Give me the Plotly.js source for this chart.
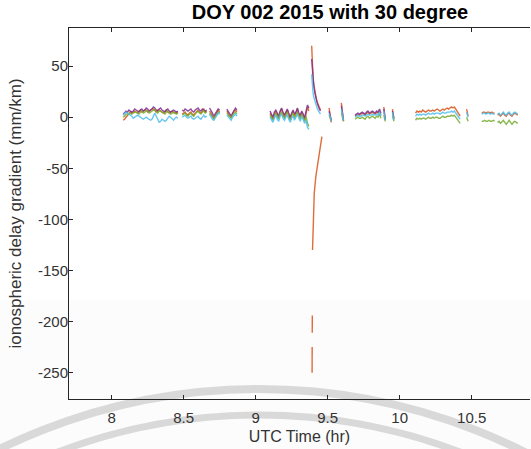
<!DOCTYPE html>
<html>
<head>
<meta charset="utf-8">
<script src="https://cdn.plot.ly/plotly-3.0.1.min.js"></script>
<style>
  html, body { margin: 0; padding: 0; background: #ffffff; }
  #chart { width: 531px; height: 449px; }
</style>
</head>
<body>
<div id="chart"></div>
<script>
// UTC hours of each epoch; null separates data arcs (no satellites tracked)
const utcHours = [
  8.08,8.09,8.10,8.11,8.12,8.13,8.14,8.15,8.16,8.17,8.18,8.19,8.20,8.21,8.22,8.23,8.24,8.25,8.26,8.27,
  8.28,8.29,8.30,8.31,8.32,8.33,8.34,8.35,8.36,8.37,8.38,8.39,8.40,8.41,8.42,8.43,8.44,8.45,8.46, null,
  8.49,8.50,8.51,8.52,8.53,8.54,8.55,8.56,8.57,8.58,8.59,8.60,8.61,8.62,8.63,8.64,8.65,8.66, null,
  8.68,8.69,8.70,8.71,8.72,8.73,8.74,8.75, null,
  8.80,8.81,8.82,8.83,8.84,8.85,8.86,8.87, null,
  9.10,9.11,9.12,9.13,9.14,9.15,9.16,9.17,9.18,9.19,9.20,9.21,9.22,9.23,9.24,9.25,9.26,9.27,9.28,9.29,
  9.30,9.31,9.32,9.33,9.34,9.35,9.36,9.37, null,
  9.51,9.515,9.52,9.525, null,
  9.595,9.60,9.605,9.61, null,
  9.69,9.70,9.71,9.72,9.73,9.74,9.75,9.76,9.77,9.78,9.79,9.80,9.81,9.82,9.83,9.84,9.85,9.86,9.87, null,
  9.89,9.895,9.90, null,
  9.95,9.955,9.96, null,
  10.11,10.12,10.13,10.14,10.15,10.16,10.17,10.18,10.19,10.20,10.21,10.22,10.23,10.24,10.25,10.26,
  10.27,10.28,10.29,10.30,10.31,10.32,10.33,10.34,10.35,10.36,10.37,10.38,10.39,10.40,10.41,10.42, null,
  10.465,10.47,10.475, null,
  10.57,10.58,10.59,10.60,10.61,10.62,10.63,10.64,10.65,10.66, null,
  10.68,10.69,10.70,10.71,10.72,10.73,10.74,10.75,10.76,10.77,10.78,10.79,10.80,10.81,10.82
];

// Gradient of each satellite pair (mm/km)
const pairOrange = [
  -3,-2,0,2,4,5,4,5,6,5,4,6,7,5,6,7,7,5,6,7,8,8,6,5,7,7,6,5,4,6,7,5,4,5,6,5,4,5,4, null,
  3,4,5,3,2,4,5,3,2,4,6,7,5,4,6,8,5,6, null,
  6,4,1,-1,2,5,7,5, null,
  6,3,1,0,3,6,7,5, null,
  4,1,-2,3,6,2,-1,5,8,3,0,4,7,2,-2,3,6,1,4,8,3,0,5,2,-3,4,10,6, null,
  9,3,-2,-5, null,
  14,6,-1,-4, null,
  1,2,3,2,3,4,3,2,4,5,3,4,5,4,3,5,4,6,2, null,
  10,3,-3, null,
  8,2,-2, null,
  4,6,5,6,5,7,6,5,6,7,6,6,7,6,7,8,7,6,7,8,7,8,9,8,9,10,9,10,8,6,3,1, null,
  8,4,1, null,
  4,5,5,4,5,5,4,5,4,4, null,
  2,3,1,3,4,2,1,3,4,2,1,3,4,3,2
];
const pairPurple = [
  3,5,6,5,7,6,5,6,8,7,6,5,7,8,6,7,9,8,6,7,8,10,9,7,6,8,9,7,6,5,7,8,6,5,6,7,6,5,6, null,
  7,6,8,7,6,7,8,6,5,7,8,9,7,6,8,7,6,7, null,
  9,7,4,1,3,6,8,7, null,
  8,6,3,1,4,7,9,7, null,
  6,3,0,5,7,4,1,6,9,5,2,5,8,4,0,4,7,3,5,9,4,2,6,3,-1,6,12,9, null,
  6,2,-1,-3, null,
  11,5,0,-3, null,
  2,3,4,3,4,5,4,3,5,6,4,5,6,5,4,6,5,8,4, null,
  8,2,-2, null,
  6,1,-1, null,
  null,null,null,null,null,null,null,null,null,null,null,null,null,null,null,null,
  null,null,null,null,null,null,null,null,null,null,null,null,null,null,null,null, null,
  null,null,null, null,
  null,null,null,null,null,null,null,null,null,null, null,
  null,null,null,null,null,null,null,null,null,null,null,null,null,null,null
];
const pairGreen = [
  0,1,3,3,4,4,3,4,5,5,4,3,5,6,4,5,6,6,4,5,6,7,7,5,4,6,6,5,4,3,5,6,4,3,4,5,4,3,4, null,
  2,3,4,2,1,3,4,2,1,3,5,6,4,3,5,6,4,5, null,
  4,2,0,-2,1,3,5,4, null,
  4,2,0,-1,2,4,5,3, null,
  2,0,-3,1,4,1,-2,3,5,1,-1,2,5,0,-3,1,4,-1,2,5,1,-2,3,0,-4,1,-6,-9, null,
  2,0,-2,-4, null,
  4,1,-2,-4, null,
  -2,-1,0,-1,-1,0,-1,-2,0,1,-1,0,1,0,-1,1,0,3,-1, null,
  2,-1,-4, null,
  1,-2,-4, null,
  -3,-1,-2,-1,-2,-1,-1,-2,-1,0,-1,-1,0,-1,0,0,-1,-1,0,1,0,0,1,1,1,2,1,2,0,-2,-4,-6, null,
  0,-2,-4, null,
  -4,-4,-3,-4,-4,-3,-4,-4,-3,-4, null,
  -5,-4,-6,-4,-3,-5,-7,-5,-3,-5,-7,-5,-4,-5,-6
];
const pairBlue = [
  2,4,5,4,3,2,1,-1,0,1,2,1,0,-1,-2,-1,0,-1,-2,-3,-2,2,4,1,-3,-5,-4,-2,-3,-4,-3,-1,1,0,-2,-3,-1,0,-1, null,
  0,1,2,0,-1,0,1,-1,-2,-1,0,1,-1,-2,0,2,0,1, null,
  3,0,-2,-3,-1,2,4,3, null,
  2,0,-2,-3,0,2,3,1, null,
  0,-3,-5,-1,2,-2,-4,1,3,-1,-3,0,2,-2,-5,-1,1,-3,0,3,-1,-4,1,-2,-6,-3,-10,-12, null,
  4,1,-1,-4, null,
  8,3,-1,-3, null,
  0,1,2,1,1,2,2,1,2,3,2,2,3,2,2,3,2,5,1, null,
  6,1,-3, null,
  5,0,-3, null,
  1,3,2,3,2,3,3,2,3,4,3,3,4,3,4,4,4,3,4,5,4,4,5,5,5,6,5,6,4,2,0,-2, null,
  5,2,0, null,
  3,4,4,3,4,4,3,4,3,3, null,
  3,4,2,4,5,3,2,4,5,3,2,4,5,4,3
];

// Sharp positive excursion after 9.39 h
const spikeHours  = [9.389, 9.391, 9.394, 9.398, 9.403, 9.410, 9.418, 9.427, 9.437, 9.450];
const spikeOrange = [70, 60, 50, 41, 33, 26, 20, 15, 11, 7];
const spikePurple = [57, 52, 45, 38, 31, 25, 19, 14, 10, 6];
const spikeBlue   = [42, 36, 30, 25, 20, 16, 12, 9, 6, 3];

// Negative excursion of the orange pair
const dropHours  = [9.392, 9.3925, null, 9.393, 9.3935, null, 9.395, 9.399, 9.403, 9.407, 9.418, 9.430, 9.440, 9.446, 9.460];
const dropOrange = [-250, -225, null, -211, -194, null, -130, -110, -90, -74, -58, -46, -37, -32, -19];

const timeTicks = [8, 8.5, 9, 9.5, 10, 10.5];
const gradientTicks = [-250, -200, -150, -100, -50, 0, 50];

const ORANGE = '#D95319', PURPLE = '#7E2F8E', GREEN = '#77AC30', BLUE = '#4DBEEE';
const lineOf = (c) => ({ color: c, width: 1.4 });

const traces = [
  { x: utcHours, y: pairOrange, line: lineOf(ORANGE) },
  { x: spikeHours, y: spikeOrange, line: lineOf(ORANGE) },
  { x: dropHours, y: dropOrange, line: lineOf(ORANGE) },
  { x: utcHours, y: pairPurple, line: lineOf(PURPLE) },
  { x: spikeHours, y: spikePurple, line: lineOf(PURPLE) },
  { x: utcHours, y: pairGreen, line: lineOf(GREEN) },
  { x: utcHours, y: pairBlue, line: lineOf(BLUE) },
  { x: spikeHours, y: spikeBlue, line: lineOf(BLUE) }
].map(t => Object.assign({ type: 'scatter', mode: 'lines', connectgaps: false, opacity: 0.85, hoverinfo: 'skip' }, t));

// plot box: left 69, right 530, top 28, bottom 399 (px)
const L = 69, R = 1, T = 28, B = 50;
const pw = 531 - L - R, ph = 449 - T - B;
const px = (v) => (v - L) / pw;
const py = (v) => (449 - B - v) / ph;
// faint background stamp arcs
const arc = (cx, cy, r, w) => ({
  type: 'circle', xref: 'paper', yref: 'paper', layer: 'below',
  x0: px(cx - r), x1: px(cx + r), y0: py(cy + r), y1: py(cy - r),
  line: { color: 'rgba(205,205,205,0.75)', width: w }
});

const FONT = 'Liberation Sans, Arial, sans-serif';
const axisCommon = {
  showgrid: false, zeroline: false, showline: true, linecolor: '#262626', linewidth: 1,
  ticks: 'inside', ticklen: 4, tickwidth: 1, tickcolor: '#262626',
  tickfont: { family: FONT, size: 15, color: '#333333' }
};

const layout = {
  width: 531, height: 449,
  margin: { l: L, r: R, t: T, b: B, pad: 0 },
  paper_bgcolor: '#ffffff', plot_bgcolor: 'rgba(0,0,0,0)',
  showlegend: false,
  title: {
    text: '<b>DOY 002 2015 with 30 degree</b>',
    x: 330 / 531, xref: 'container', xanchor: 'center',
    y: 1 - 12 / 449, yref: 'container', yanchor: 'middle',
    font: { family: FONT, size: 20, color: '#000000' }
  },
  xaxis: Object.assign({}, axisCommon, {
    range: [7.704, 10.905], mirror: 'ticks', ticklabelstandoff: 5,
    tickvals: timeTicks, ticktext: timeTicks.map(String),
    title: { text: 'UTC Time (hr)', standoff: 5, font: { family: FONT, size: 16, color: '#333333' } }
  }),
  yaxis: Object.assign({}, axisCommon, {
    range: [-275.8, 87.3], mirror: false, ticklabelstandoff: -3,
    tickvals: gradientTicks, ticktext: gradientTicks.map(String),
    title: { text: 'ionospheric delay gradient (mm/km)', standoff: 12, font: { family: FONT, size: 17, color: '#333333' } }
  }),
  shapes: [
    { type: 'rect', xref: 'paper', yref: 'paper', layer: 'below', x0: px(0), x1: px(531), y0: py(449), y1: py(300),
      fillcolor: 'rgba(0,0,0,0.012)', line: { width: 0 } },
    arc(259, 980, 591, 8),
    arc(259, 980, 565, 7)
  ]
};

Plotly.newPlot('chart', traces, layout, { staticPlot: true, displayModeBar: false });
</script>
</body>
</html>
